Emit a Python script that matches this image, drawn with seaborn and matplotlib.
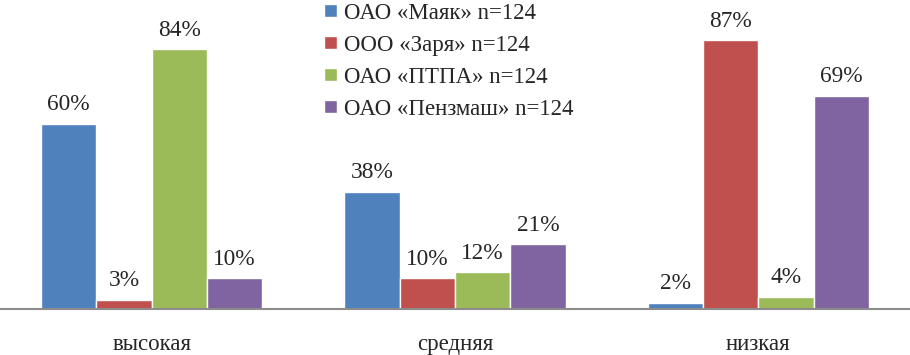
import pandas as pd
import matplotlib
matplotlib.use("Agg")
import matplotlib.pyplot as plt
import seaborn as sns

# данные
categories = ['высокая', 'средняя', 'низкая']
series = ['ОАО «Маяк» n=124', 'ООО «Заря» n=124', 'ОАО «ПТПА» n=124', 'ОАО «Пензмаш» n=124']
mayak = [60, 38, 2]
zarya = [3, 10, 87]
ptpa = [84, 12, 4]
penzmash = [10, 21, 69]
colors = ['#4F81BD', '#C0504D', '#9BBB59', '#8064A2']

rows = []
for name, vals in zip(series, [mayak, zarya, ptpa, penzmash]):
    for cat, v in zip(categories, vals):
        rows.append({'cat': cat, 'company': name, 'val': v})
df = pd.DataFrame(rows)

sns.set_style('white')
plt.rcParams['font.family'] = ['Liberation Serif', 'DejaVu Serif']

fig = plt.figure(figsize=(9.1, 3.55), dpi=100)
ax = fig.add_axes([0, 0.1296, 1, 0.8704])

sns.barplot(data=df, x='cat', y='val', hue='company', order=categories,
            hue_order=series, palette=colors, width=0.73, gap=0,
            saturation=1, ax=ax, legend=True)

for cont in ax.containers:
    ax.bar_label(cont, fmt='{:.0f}%', padding=6, fontsize=16.8)

ax.set_ylim(0, 100)
ax.set_xlim(-0.5, 2.5)
ax.set_xlabel('')
ax.set_ylabel('')
ax.set_yticks([])
ax.tick_params(axis='x', length=0, pad=18, labelsize=16.5)
for s in ['top', 'right', 'left']:
    ax.spines[s].set_visible(False)
ax.spines['bottom'].set_color('#8c8c8c')
ax.spines['bottom'].set_linewidth(1.5)

handles, labels = ax.get_legend_handles_labels()
ax.legend(handles, labels, loc='center', bbox_to_anchor=(0.493, 0.828),
          bbox_transform=fig.transFigure, frameon=False, fontsize=16.5,
          handlelength=0.55, handleheight=0.55, handletextpad=0.3,
          labelspacing=0.48)

fig.savefig('out.png', dpi=100)
